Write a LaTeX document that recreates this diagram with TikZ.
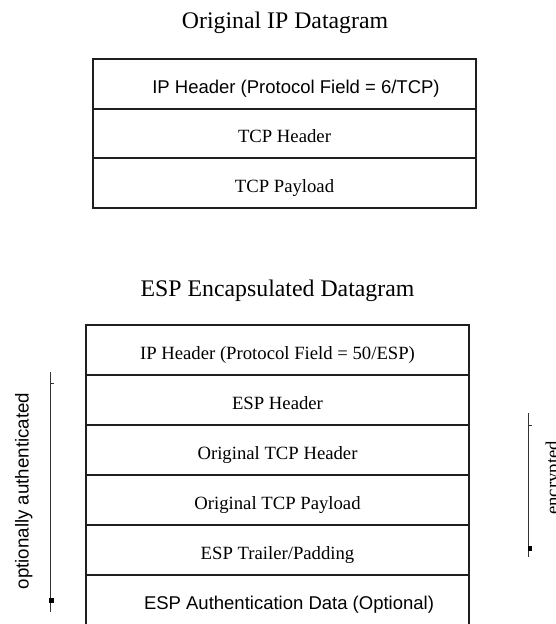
\documentclass[tikz,border=0pt]{standalone}
\usepackage{fontspec}
\setmainfont{Liberation Serif}
\setsansfont{Liberation Sans}
\begin{document}
\begin{tikzpicture}[x=1pt,y=-1pt,
  row/.style={draw=black!88,line width=1.6pt,minimum width=383pt,minimum height=50pt,inner sep=0pt,
    text height=18pt,text depth=0pt,font=\fontsize{18.7pt}{22pt}\selectfont},
  srow/.style={row,font=\sffamily\fontsize{18.5pt}{22pt}\selectfont},
  title/.style={anchor=base,inner sep=0pt,font=\fontsize{23.8pt}{28pt}\selectfont},
  brk/.style={draw=black!80,line width=1pt},
  endmark/.style={fill=black},
  side/.style={anchor=base,rotate=90,inner sep=0pt}]
\path[use as bounding box] (0,0) rectangle (555,624);
\clip (0,0) rectangle (555,624);

% titles
\node[title] (t1) at (285,28) {Original IP Datagram};
\node[title] (t2) at (277.5,296.5) {ESP Encapsulated Datagram};

% original datagram
\node[srow] (o1) at (284.5,84) {\hspace*{23pt}IP Header (Protocol Field = 6/TCP)};
\node[row] (o2) at (284.5,133.5) {TCP Header};
\node[row] (o3) at (284.5,183) {TCP Payload};

% ESP datagram
\node[row] (e1) at (277.5,350) {IP Header (Protocol Field = 50/ESP)};
\node[row] (e2) at (277.5,400) {ESP Header};
\node[row] (e3) at (277.5,450) {Original TCP Header};
\node[row] (e4) at (277.5,500) {Original TCP Payload};
\node[row] (e5) at (277.5,550) {ESP Trailer/Padding};
\node[srow] (e6) at (277.5,600) {\hspace*{23pt}ESP Authentication Data (Optional)};

% left bracket: optionally authenticated
\coordinate (lt) at (50,372);
\coordinate (lb) at (50,612);
\coordinate (ltk) at (50,383);
\coordinate (ltke) at (54,383);
\draw[brk] (lt) -- (lb);
\draw[brk] (ltk) -- (ltke);
\fill[endmark] (49.3,598) rectangle (53.5,603);
\node[side,font=\sffamily\fontsize{18.7pt}{22pt}\selectfont] (la) at (28.6,491) {optionally authenticated};

% right bracket: encrypted
\coordinate (rt) at (528,413);
\coordinate (rb) at (528,557);
\coordinate (rtk) at (528,425);
\coordinate (rtke) at (532,425);
\draw[brk] (rt) -- (rb);
\draw[brk] (rtk) -- (rtke);
\fill[endmark] (527.7,545.7) rectangle (531.7,550.7);
\node[side,font=\fontsize{18.7pt}{22pt}\selectfont] (ra) at (558.5,478) {encrypted};
\end{tikzpicture}
\end{document}
